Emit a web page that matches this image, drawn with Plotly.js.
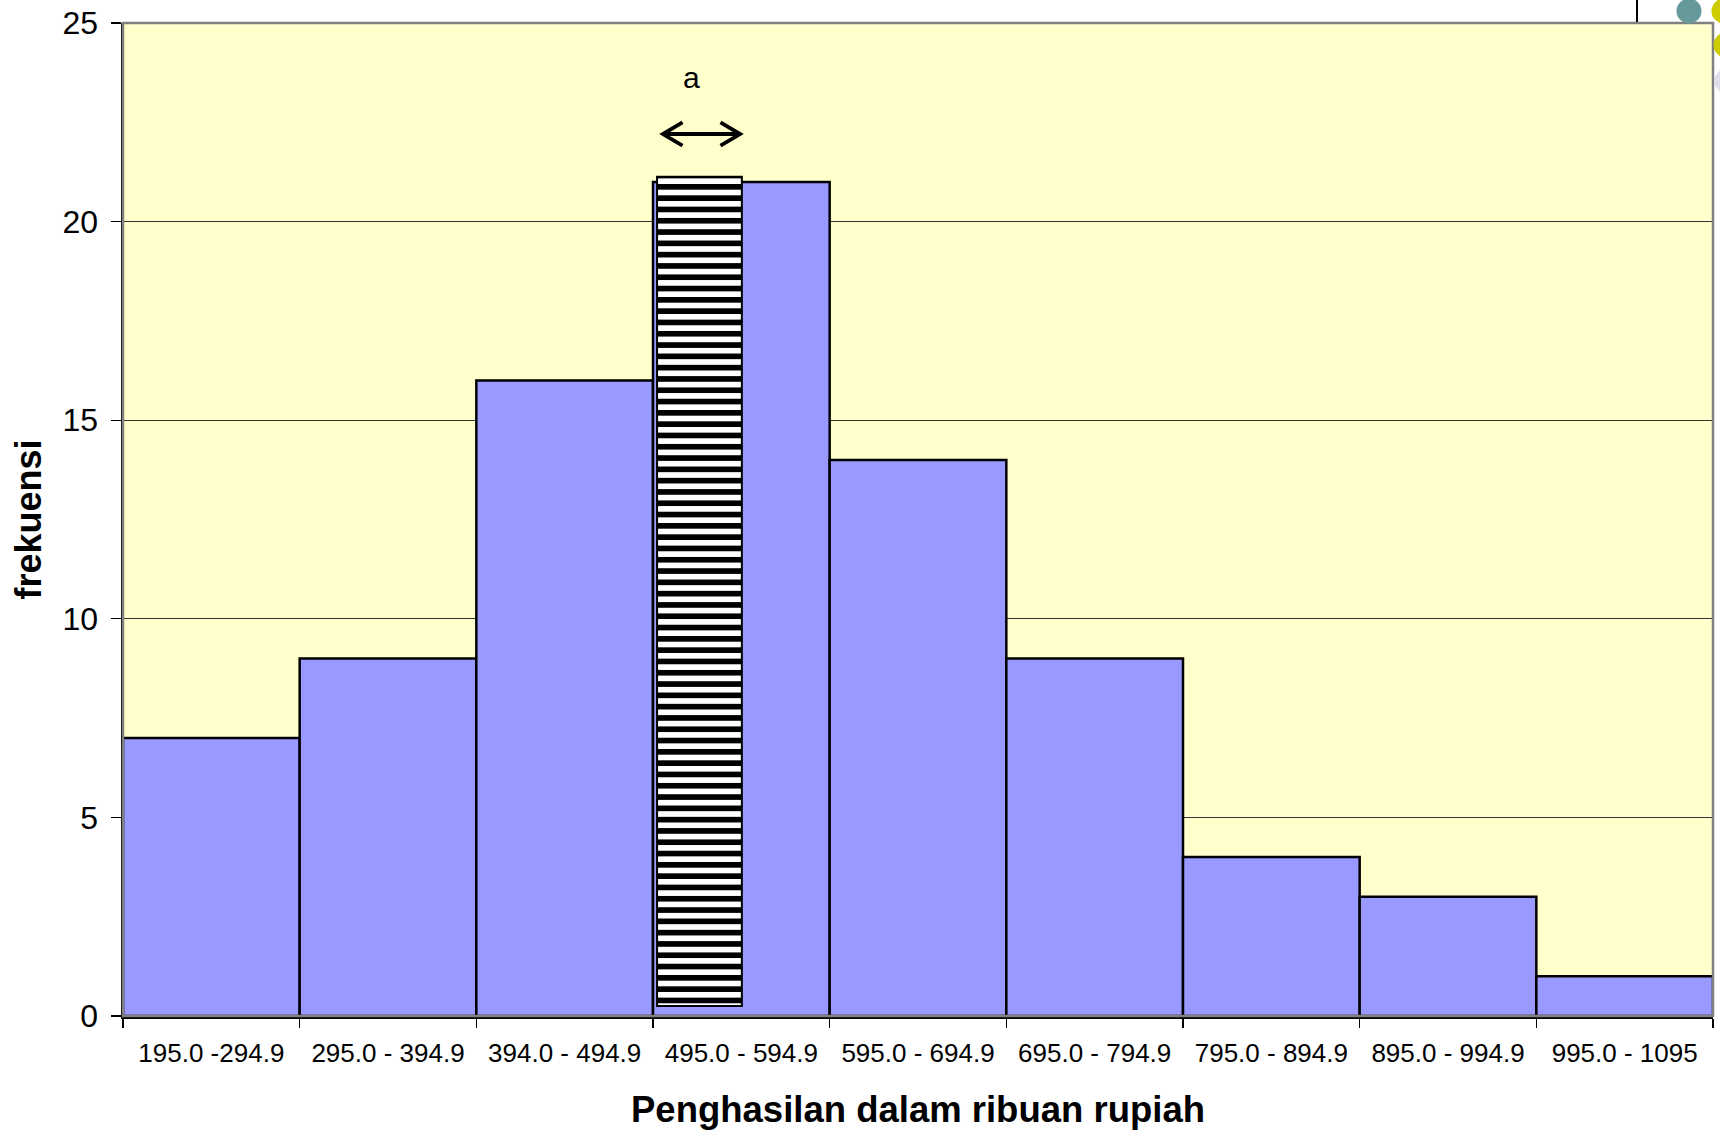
<!DOCTYPE html>
<html>
<head>
<meta charset="utf-8">
<script src="https://cdn.plot.ly/plotly-3.0.1.min.js"></script>
<style>
  html, body { margin: 0; padding: 0; background: #ffffff; }
  #chart { width: 1720px; height: 1130px; }
</style>
</head>
<body>
<div id="chart"></div>
<script>
// ---- data ----
const categories = [
  "195.0 -294.9", "295.0 - 394.9", "394.0 - 494.9", "495.0 - 594.9",
  "595.0 - 694.9", "695.0 - 794.9", "795.0 - 894.9", "895.0 - 994.9", "995.0 - 1095"
];
const frequencies = [7, 9, 16, 21, 14, 9, 4, 3, 1];

// hatched illustration bar of class width "a" inside the modal class
const highlightCategory = ["495.0 - 594.9"];
const highlightBase = [0.25];
const highlightHeight = [20.88];

const yTickValues = [0, 5, 10, 15, 20, 25];
const yTickLabels = ["0", "5", "10", "15", "20", "25"];

const xTitle = "Penghasilan dalam ribuan rupiah";
const yTitle = "frekuensi";
const widthLabel = "a";

const FONT = "'Liberation Sans', Arial, sans-serif";

const traces = [
  {
    type: "bar",
    x: categories,
    y: frequencies,
    width: 1,
    marker: { color: "#9999FF", line: { color: "#000000", width: 2.5 } },
    hoverinfo: "skip",
    showlegend: false
  },
  {
    type: "bar",
    x: highlightCategory,
    y: highlightHeight,
    base: highlightBase,
    width: 0.48,
    offset: -0.477,
    marker: {
      color: "#ffffff",
      line: { color: "#000000", width: 2 },
      pattern: { shape: "-", fgcolor: "#000000", bgcolor: "#ffffff", fgopacity: 1,
                 size: 11.3, solidity: 0.5, fillmode: "replace" }
    },
    hoverinfo: "skip",
    showlegend: false
  }
];

const layout = {
  width: 1720,
  height: 1130,
  margin: { l: 123, r: 7, t: 23, b: 114 },
  paper_bgcolor: "#ffffff",
  plot_bgcolor: "#FFFFCC",
  barmode: "overlay",
  bargap: 0,
  hovermode: false,
  showlegend: false,
  font: { family: FONT, color: "#000000" },
  xaxis: {
    type: "category",
    range: [-0.5, 8.5],
    showgrid: false,
    zeroline: false,
    showline: true,
    linecolor: "#000000",
    linewidth: 3,
    ticks: "outside",
    tickson: "boundaries",
    ticklen: 9,
    tickwidth: 1.2,
    tickcolor: "#000000",
    ticklabelstandoff: 12,
    tickfont: { family: FONT, size: 26, color: "#000000" },
    title: { text: xTitle, font: { family: FONT, size: 36.5, color: "#000000", weight: "bold" }, standoff: 30 },
    automargin: false,
    fixedrange: true
  },
  yaxis: {
    range: [0, 25],
    tickvals: yTickValues,
    ticktext: yTickLabels,
    showgrid: true,
    gridcolor: "#333333",
    gridwidth: 1,
    zeroline: false,
    showline: true,
    linecolor: "#000000",
    linewidth: 2.5,
    ticks: "outside",
    ticklen: 10,
    tickwidth: 1.2,
    tickcolor: "#000000",
    ticklabelstandoff: 6,
    tickfont: { family: FONT, size: 32, color: "#000000" },
    title: { text: yTitle, font: { family: FONT, size: 36, color: "#000000", weight: "bold" }, standoff: 10 },
    automargin: false,
    fixedrange: true
  },
  annotations: [
    {
      text: widthLabel, xref: "x", yref: "y", x: 2.72, y: 23.64,
      showarrow: false, font: { family: FONT, size: 30, color: "#000000" },
      xanchor: "center", yanchor: "middle"
    }
  ],
  shapes: [
    // gray plot-area frame (top / right)
    { type: "rect", xref: "paper", yref: "paper", x0: 0, x1: 1, y0: 0, y1: 1,
      line: { color: "#808080", width: 2.5 }, fillcolor: "rgba(0,0,0,0)", layer: "above" },
    // double-headed arrow marking width "a"
    { type: "path", xref: "x", yref: "y", layer: "above",
      path: "M2.553,22.205 L2.996,22.205",
      line: { color: "#000000", width: 3.8 } },
    { type: "path", xref: "x", yref: "y", layer: "above",
      path: "M2.667,22.50 L2.556,22.205 L2.667,21.91",
      line: { color: "#000000", width: 3.8 } },
    { type: "path", xref: "x", yref: "y", layer: "above",
      path: "M2.882,22.50 L2.993,22.205 L2.882,21.91",
      line: { color: "#000000", width: 3.8 } },
    // slide decorations at top-right
    { type: "line", xref: "paper", yref: "paper", xsizemode: "pixel", ysizemode: "pixel",
      xanchor: 1, yanchor: 1, x0: -76, x1: -76, y0: 1, y1: 24,
      line: { color: "#000000", width: 2 }, layer: "above" },
    { type: "circle", xref: "paper", yref: "paper", xsizemode: "pixel", ysizemode: "pixel",
      xanchor: 1, yanchor: 1, x0: -36.5, x1: -11.5, y0: -0.5, y1: 24.5,
      fillcolor: "#669999", line: { width: 0 }, layer: "above" },
    { type: "circle", xref: "paper", yref: "paper", xsizemode: "pixel", ysizemode: "pixel",
      xanchor: 1, yanchor: 1, x0: -1.5, x1: 23.5, y0: -0.5, y1: 24.5,
      fillcolor: "#CCCC00", line: { width: 0 }, layer: "above" },
    { type: "circle", xref: "paper", yref: "paper", xsizemode: "pixel", ysizemode: "pixel",
      xanchor: 1, yanchor: 1, x0: 0.5, x1: 25.5, y0: -34.5, y1: -9.5,
      fillcolor: "#CCCC00", line: { width: 0 }, layer: "above" },
    { type: "circle", xref: "paper", yref: "paper", xsizemode: "pixel", ysizemode: "pixel",
      xanchor: 1, yanchor: 1, x0: 1.5, x1: 26.5, y0: -70.5, y1: -45.5,
      fillcolor: "#DDDDEE", line: { width: 0 }, layer: "above" }
  ]
};

Plotly.newPlot("chart", traces, layout, { displayModeBar: false, staticPlot: true });
</script>
</body>
</html>
